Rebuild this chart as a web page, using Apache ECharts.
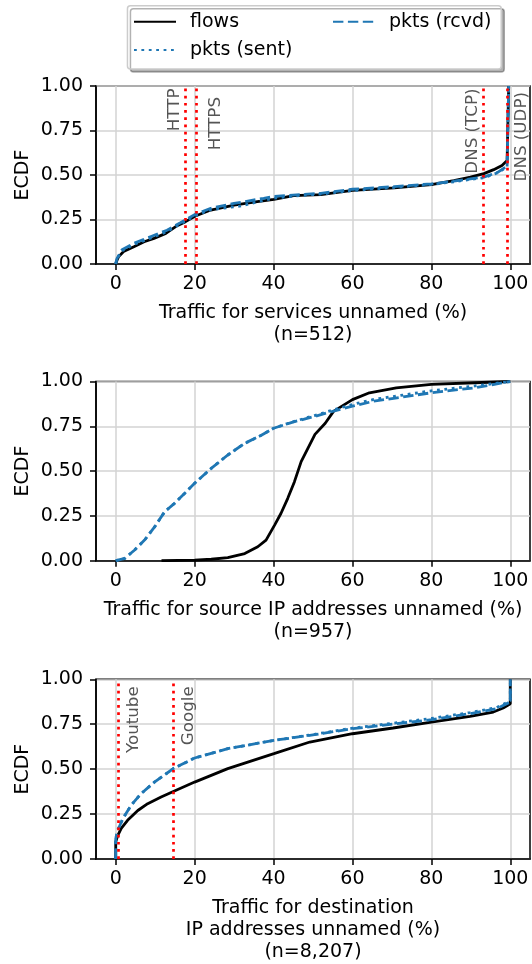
<!DOCTYPE html>
<html><head><meta charset="utf-8">
<script src="https://cdn.jsdelivr.net/npm/echarts@6/dist/echarts.min.js"></script>
<style>html,body{margin:0;padding:0;background:#fff}#c{width:532px;height:964px}</style>
</head><body><div id="c"></div><script>
// ---------- data ----------
const xTicks = [0, 20, 40, 60, 80, 100];
const yTicks = [0, 0.25, 0.5, 0.75, 1];
const seriesNames = ['flows', 'pkts (sent)', 'pkts (rcvd)'];

// Panel 1: services
const p1FlowsX = [0, 0.3, 0.7, 2, 4.6, 7.2, 9.7, 12.7, 15.2, 17.7, 20.2, 24.1, 30, 35.9, 40.1, 45.1, 52, 60, 70.6, 80, 85.7, 89.9, 93.3, 95.8, 97.9, 99.2, 99.6, 99.6];
const p1FlowsY = [0, 0.02, 0.04, 0.07, 0.097, 0.125, 0.144, 0.172, 0.21, 0.238, 0.27, 0.303, 0.331, 0.35, 0.363, 0.384, 0.39, 0.414, 0.428, 0.446, 0.468, 0.488, 0.508, 0.53, 0.554, 0.582, 0.59, 1.0];
const p1SentX = [0, 0.3, 1.6, 4.6, 8.8, 13, 16.4, 20.2, 24.1, 31.4, 40, 46.8, 52, 60, 70.6, 80, 85.7, 89.9, 93.3, 96.8, 99.2, 99.6, 99.6];
const p1SentY = [0, 0.03, 0.075, 0.11, 0.145, 0.182, 0.225, 0.272, 0.305, 0.325, 0.37, 0.385, 0.393, 0.412, 0.43, 0.447, 0.462, 0.475, 0.485, 0.512, 0.545, 0.555, 1.0];
const p1RcvdX = [0, 0.3, 1.6, 4.6, 8.8, 13, 16.4, 20.2, 24.1, 30, 37.5, 40, 46.8, 52, 60, 70.6, 80, 85.7, 89.9, 93.3, 96.8, 99.2, 99.6, 99.6];
const p1RcvdY = [0, 0.03, 0.08, 0.116, 0.153, 0.19, 0.232, 0.28, 0.313, 0.34, 0.369, 0.38, 0.39, 0.397, 0.42, 0.435, 0.45, 0.465, 0.478, 0.488, 0.515, 0.55, 0.56, 1.0];
const p1MarkNames = ['HTTP', 'HTTPS', 'DNS (TCP)', 'DNS (UDP)'];
const p1MarkX = [17.6, 20.5, 93.2, 99.2];

// Panel 2: source IPs
const p2FlowsX = [11.6, 20, 24.2, 28.4, 32.7, 36, 38.1, 40.3, 41.9, 43.6, 45.3, 47, 48.7, 50.5, 53.1, 55.2, 60, 64.3, 71.1, 80, 91, 100];
const p2FlowsY = [0, 0.003, 0.008, 0.017, 0.04, 0.078, 0.115, 0.2, 0.265, 0.348, 0.441, 0.553, 0.627, 0.705, 0.767, 0.833, 0.899, 0.937, 0.965, 0.984, 0.993, 1.0];
const p2SentX = [0, 2.3, 4.8, 7.3, 9.9, 12.4, 14.9, 17.5, 20, 24.2, 28.4, 32.7, 36.9, 40, 45.3, 50.4, 55.2, 60, 65.4, 80, 91, 100];
const p2SentY = [0, 0.013, 0.06, 0.115, 0.19, 0.273, 0.32, 0.376, 0.432, 0.515, 0.59, 0.655, 0.70, 0.739, 0.778, 0.81, 0.842, 0.872, 0.9, 0.948, 0.975, 1.0];
const p2RcvdX = [0, 2.3, 4.8, 7.3, 9.9, 12.4, 14.9, 17.5, 20, 24.2, 28.4, 32.7, 36.9, 40, 45.3, 50.4, 55.2, 60, 65.4, 80, 91, 100];
const p2RcvdY = [0, 0.013, 0.06, 0.115, 0.19, 0.273, 0.32, 0.376, 0.432, 0.515, 0.59, 0.655, 0.70, 0.739, 0.776, 0.805, 0.835, 0.862, 0.89, 0.937, 0.965, 1.0];

// Panel 3: destination IPs
const p3FlowsX = [0, 0, 0.5, 1.4, 3, 5.6, 8.1, 11.5, 14.6, 20, 28.4, 40.1, 49.2, 60, 70.3, 80, 89.8, 95.7, 98.2, 100, 100];
const p3FlowsY = [0, 0.095, 0.13, 0.17, 0.215, 0.27, 0.308, 0.345, 0.376, 0.428, 0.503, 0.586, 0.651, 0.697, 0.729, 0.762, 0.794, 0.818, 0.84, 0.864, 1.0];
const p3SentX = [0, 0, 0.5, 1.8, 3.9, 6.4, 9.8, 14.6, 20, 28.4, 40.1, 50.4, 60, 80, 89.8, 96.5, 100, 100];
const p3SentY = [0, 0.113, 0.16, 0.224, 0.299, 0.363, 0.428, 0.503, 0.562, 0.614, 0.66, 0.694, 0.728, 0.782, 0.815, 0.842, 0.88, 1.0];
const p3RcvdX = [0, 0, 0.5, 1.8, 3.9, 6.4, 9.8, 14.6, 20, 28.4, 40.1, 50.4, 60, 80, 89.8, 96.5, 100, 100];
const p3RcvdY = [0, 0.113, 0.16, 0.224, 0.299, 0.363, 0.428, 0.503, 0.562, 0.614, 0.66, 0.692, 0.725, 0.775, 0.809, 0.836, 0.874, 1.0];
const p3MarkNames = ['Youtube', 'Google'];
const p3MarkX = [0.7, 14.6];

const xTitles = [
  'Traffic for services unnamed (%)\n(n=512)',
  'Traffic for source IP addresses unnamed (%)\n(n=957)',
  'Traffic for destination\nIP addresses unnamed (%)\n(n=8,207)'
];

// ---------- styling / build ----------
const F = 'DejaVu Sans';
const FS = 19;
const BLUE = '#1f77b4';
const zip = (xs, ys) => xs.map((x, i) => [x, ys[i]]);

const grids = [
  {left: 96, right: 2, top: 86, height: 178},
  {left: 96, right: 2, top: 381.5, height: 179.2},
  {left: 96, right: 2, top: 679.3, height: 179.7}
].map(g => Object.assign({show: true, borderColor: '#000', borderWidth: 1.5, outerBoundsMode: 'none', containLabel: false}, g));

const xAxes = xTitles.map((t, i) => ({
  gridIndex: i, type: 'value', min: -5, max: 105,
  name: t, nameLocation: 'middle', nameGap: 38.5, nameMoveOverlap: false,
  nameTextStyle: {fontFamily: F, fontSize: FS, color: '#000', lineHeight: 22, verticalAlign: 'top', align: 'center'},
  axisLine: {show: true, onZero: false, lineStyle: {color: '#000', width: 1.5}},
  axisTick: {show: true, length: 6, customValues: xTicks, lineStyle: {color: '#000', width: 1.5}},
  axisLabel: {show: true, customValues: xTicks, fontFamily: F, fontSize: FS, color: '#000', margin: 11},
  splitLine: {show: true, lineStyle: {color: '#d3d3d3', width: 1.5}}
}));

const yAxes = [0, 1, 2].map(i => ({
  gridIndex: i, type: 'value', min: 0, max: 1, interval: 0.25,
  name: 'ECDF', nameLocation: 'middle', nameGap: 63, nameMoveOverlap: false,
  nameTextStyle: {fontFamily: F, fontSize: FS, color: '#000'},
  axisLine: {show: true, onZero: false, lineStyle: {color: '#000', width: 1.5}},
  axisTick: {show: true, length: 6, lineStyle: {color: '#000', width: 1.5}},
  axisLabel: {show: true, fontFamily: F, fontSize: FS, color: '#000', margin: 13, formatter: v => v.toFixed(2)},
  splitLine: {show: true, lineStyle: {color: '#d3d3d3', width: 1.5}}
}));

function markLine(names, xs, positions, dists) {
  return {
    silent: true, symbol: 'none', animation: false,
    lineStyle: {color: '#ff0000', type: [2.7, 4.5], width: 2.7},
    label: {show: true, formatter: '{b}', fontFamily: F, fontSize: 16.7, color: '#555555'},
    data: names.map((n, k) => ({name: n, xAxis: xs[k], label: {position: positions[k], distance: dists[k]}}))
  };
}

const styles = [
  {color: '#000000', type: 'solid'},
  {color: BLUE, type: [2.8, 4.6]},
  {color: BLUE, type: [10.4, 4.5]}
];

const panelData = [
  [zip(p1FlowsX, p1FlowsY), zip(p1SentX, p1SentY), zip(p1RcvdX, p1RcvdY)],
  [zip(p2FlowsX, p2FlowsY), zip(p2SentX, p2SentY), zip(p2RcvdX, p2RcvdY)],
  [zip(p3FlowsX, p3FlowsY), zip(p3SentX, p3SentY), zip(p3RcvdX, p3RcvdY)]
];

const series = [];
panelData.forEach((arr, p) => {
  arr.forEach((d, s) => {
    const ser = {
      type: 'line', name: seriesNames[s], xAxisIndex: p, yAxisIndex: p,
      data: d, showSymbol: false, symbol: 'none', animation: false, silent: true,
      lineStyle: {color: styles[s].color, type: styles[s].type, width: 2.8},
      itemStyle: {color: styles[s].color},
      z: 2 + s
    };
    if (s === 0 && p === 0) ser.markLine = markLine(p1MarkNames, p1MarkX,
      ['insideEndTop', 'insideEndBottom', 'insideEndTop', 'insideEndBottom'], [2.5, 11, 2.5, 6]);
    if (s === 0 && p === 2) ser.markLine = markLine(p3MarkNames, p3MarkX,
      ['insideEndBottom', 'insideEndBottom'], [7, 7]);
    series.push(ser);
  });
});

const legendBase = {
  orient: 'vertical', padding: 0, itemWidth: 42, itemHeight: 14, itemGap: 6.3,
  itemStyle: {opacity: 0, color: 'transparent', borderColor: 'transparent', borderWidth: 0},
  textStyle: {fontFamily: F, fontSize: FS, color: '#000', lineHeight: 22, padding: [0, 0, 0, 9]},
  selectedMode: false
};

const option = {
  backgroundColor: '#fff',
  animation: false,
  grid: grids,
  xAxis: xAxes,
  yAxis: yAxes,
  legend: [
    Object.assign({}, legendBase, {left: 133, top: 10.7, data: ['flows', 'pkts (sent)']}),
    Object.assign({}, legendBase, {left: 332, top: 10.7, data: ['pkts (rcvd)']})
  ],
  graphic: [{
    type: 'rect', left: 126.7, top: 5, z: -1,
    shape: {width: 373.8, height: 63.3, r: 3},
    style: {fill: '#fff', stroke: '#cccccc', lineWidth: 1.5, shadowColor: 'rgba(0,0,0,0.3)', shadowOffsetX: 3, shadowOffsetY: 3, shadowBlur: 0}
  }],
  series: series
};

const chart = echarts.init(document.getElementById('c'), null, {renderer: 'canvas'});
chart.setOption(option);
</script></body></html>
